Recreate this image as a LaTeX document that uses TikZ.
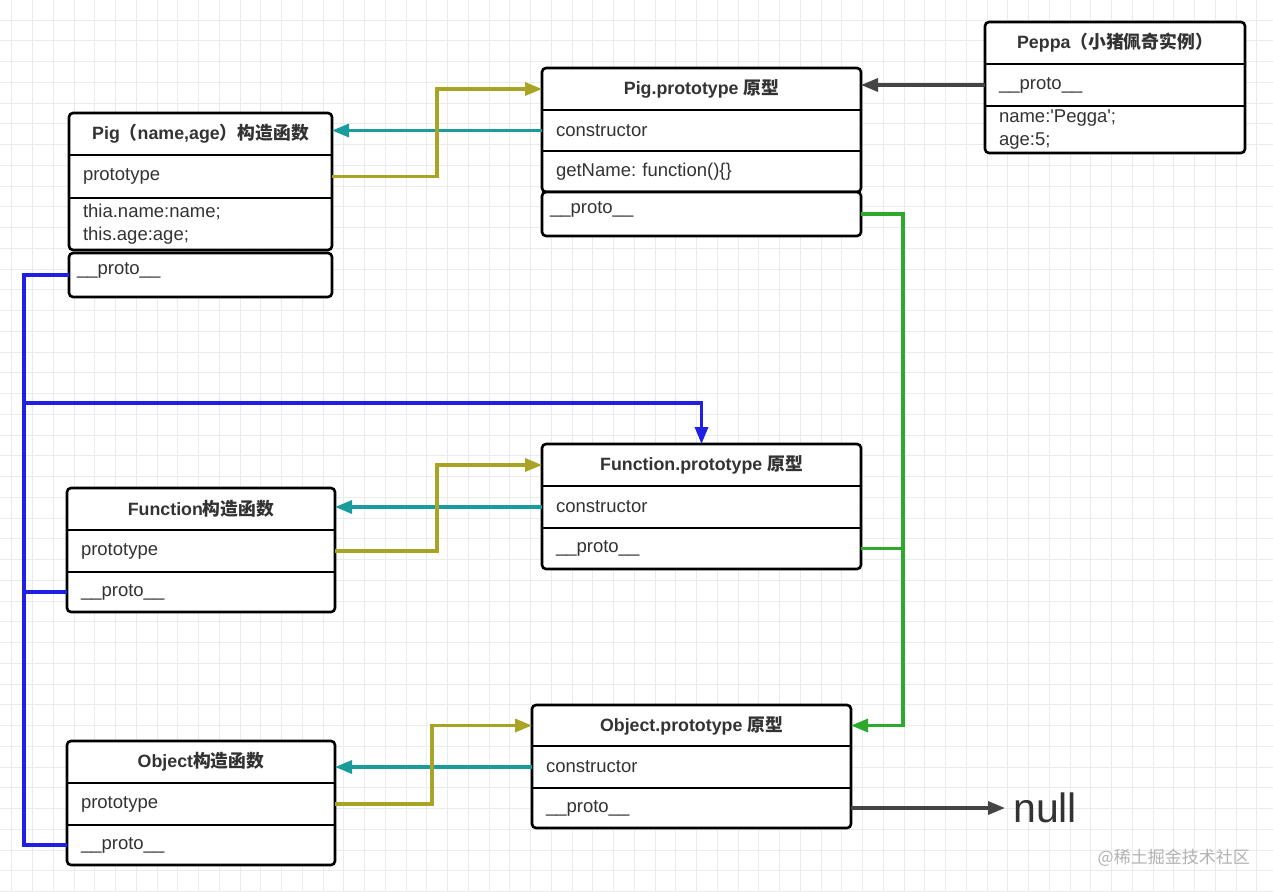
\documentclass[tikz,border=0pt]{standalone}
\usepackage{fontspec}
\setmainfont{Liberation Sans}
\newfontfamily\cjk{Noto Sans CJK SC}
\usepackage{xcolor}
\usetikzlibrary{arrows.meta,positioning,fit,backgrounds}

\definecolor{txtgray}{HTML}{333333}
\definecolor{tealln}{HTML}{1A9C9C}
\definecolor{oliveln}{HTML}{A9A424}
\definecolor{greenln}{HTML}{2DAA2D}
\definecolor{blueln}{HTML}{1F1FE6}
\definecolor{darkln}{HTML}{444444}
\definecolor{gridln}{HTML}{EBEBEB}

\begin{document}
\frenchspacing
\begin{tikzpicture}[
    x=1pt, y=-1pt,
    font=\fontsize{18.5}{23}\selectfont,
    text=txtgray,
    hd/.style={minimum width=#1, minimum height=42pt, inner sep=0pt, outer sep=0pt,
               font=\fontsize{17.8}{23}\selectfont\bfseries, anchor=north west},
    fld/.style={text width=#1, minimum height=42pt, inner xsep=14pt, inner ysep=0pt,
                outer sep=0pt, align=left},
    pxb/.style={draw=black, line width=2.6pt, rounded corners=4pt, fill=white,
                text width=#1, inner xsep=8pt, inner ysep=0pt, outer sep=0pt,
                text height=21pt, text depth=23pt, align=left},
    box/.style={draw=black, line width=2.6pt, rounded corners=4pt, fill=white, inner sep=0pt},
    div/.style={draw=black, line width=2.4pt},
    con/.style={draw=#1, line width=3.2pt, -{Triangle[length=17pt,width=13pt]}},
    ln/.style={draw=#1, line width=3.2pt},
    ]
\useasboundingbox (0,0) rectangle (1273,891);

% Pig constructor
\node[hd=263pt] (pig-t) at (69,113) {Pig{\cjk （}name,age{\cjk ）构造函数}};
\node[fld=235pt, below=0pt of pig-t, minimum height=43pt] (pig-pt) {prototype};
\node[fld=235pt, below=0pt of pig-pt, minimum height=52pt] (pig-x) {thia.name:name;\\this.age:age;};
\node[pxb=247pt, below=3pt of pig-x] (pig-pb) {\_\_proto\_\_};

% Pig.prototype
\node[hd=319pt] (pigp-t) at (542,68) {Pig.prototype {\cjk 原型}};
\node[fld=291pt, below=0pt of pigp-t, minimum height=41pt] (pigp-c) {constructor};
\node[fld=291pt, below=0pt of pigp-c, minimum height=41pt] (pigp-g) {getName: function()\{\}};
\node[pxb=303pt, below=0pt of pigp-g] (pigp-pb) {\_\_proto\_\_};

% Peppa instance
\node[hd=260pt] (peppa-t) at (985,22) {Peppa{\cjk （小猪佩奇实例）}};
\node[fld=232pt, below=0pt of peppa-t] (peppa-pr) {\_\_proto\_\_};
\node[fld=232pt, below=0pt of peppa-pr, minimum height=47pt] (peppa-x) {name:\textquotesingle Pegga\textquotesingle;\\age:5;};

% Function.prototype
\node[hd=319pt] (fnp-t) at (542,444) {Function.prototype {\cjk 原型}};
\node[fld=291pt, below=0pt of fnp-t] (fnp-c) {constructor};
\node[fld=291pt, below=0pt of fnp-c, minimum height=41pt] (fnp-pr) {\_\_proto\_\_};

% Function constructor
\node[hd=268pt] (fn-t) at (67,488) {Function{\cjk 构造函数}};
\node[fld=240pt, below=0pt of fn-t] (fn-pt) {prototype};
\node[fld=240pt, below=0pt of fn-pt, minimum height=40pt] (fn-pr) {\_\_proto\_\_};

% Object.prototype
\node[hd=319pt, minimum height=41pt] (objp-t) at (532,705) {Object.prototype {\cjk 原型}};
\node[fld=291pt, below=0pt of objp-t] (objp-c) {constructor};
\node[fld=291pt, below=0pt of objp-c, minimum height=40pt] (objp-pr) {\_\_proto\_\_};

% Object constructor
\node[hd=268pt] (obj-t) at (67,741) {Object{\cjk 构造函数}};
\node[fld=240pt, below=0pt of obj-t] (obj-pt) {prototype};
\node[fld=240pt, below=0pt of obj-pt, minimum height=40pt] (obj-pr) {\_\_proto\_\_};

\node[anchor=west, inner sep=0pt, text=txtgray, font=\fontsize{41}{41}\selectfont] (nul) at (1013,808) {null};
\node[anchor=east, inner sep=0pt, text=black!30, font=\cjk\fontsize{17}{17}\selectfont] (wm) at (1250,858) {@稀土掘金技术社区};

\begin{scope}[on background layer]
  \fill[white] (0,0) rectangle (1273,891);
  \foreach \i in {0,...,60}
    \draw[gridln, line width=0.9pt] ({11.7+20.75*\i},0) -- ++(0,891);
  \foreach \j in {0,...,42}
    \draw[gridln, line width=0.9pt] (0,{20+20.75*\j}) -- ++(1273,0);
  \foreach \a/\b in {pig-t/pig-x, pigp-t/pigp-g, peppa-t/peppa-x, fnp-t/fnp-pr,
                     fn-t/fn-pr, objp-t/objp-pr, obj-t/obj-pr}
    \node[box, fit=(\a)(\b)] {};
\end{scope}

\foreach \r in {pig-t, pig-pt, pigp-t, pigp-c, peppa-t, peppa-pr, fnp-t, fnp-c,
                fn-t, fn-pt, objp-t, objp-c, obj-t, obj-pt}
  \draw[div] (\r.south west) -- (\r.south east);

% constructor links
\draw[con=tealln] (pigp-c.west) -- (pigp-c.west -| pig-t.east);
\draw[con=tealln] (fnp-c.west) -- (fnp-c.west -| fn-t.east);
\draw[con=tealln] (objp-c.west) -- (objp-c.west -| obj-t.east);

% prototype links
\draw[con=oliveln] (pig-pt.east) -- ++(105,0) |- (pigp-t.west);
\draw[con=oliveln] (fn-pt.east) -- ++(102,0) |- (fnp-t.west);
\draw[con=oliveln] (obj-pt.east) -- ++(97,0) |- (objp-t.west);

% __proto__ chains
\draw[con=darkln] (peppa-pr.west) -- (peppa-pr.west -| pigp-t.east);
\draw[con=greenln] (pigp-pb.east) -- ++(42,0) |- (objp-t.east);
\draw[ln=greenln] (fnp-pr.east) -- ++(42,0);
\draw[ln=blueln] (pig-pb.west) -- ++(-45,0) coordinate (bus) |- (obj-pr.west);
\draw[ln=blueln] (fn-pr.west) -- (fn-pr.west -| bus);
\coordinate (bj) at (24,403);
\draw[con=blueln] (bj) -| (fnp-t.north);
\draw[con=darkln, shorten >=8pt] (objp-pr.east) -- (nul.west);
\end{tikzpicture}
\end{document}
